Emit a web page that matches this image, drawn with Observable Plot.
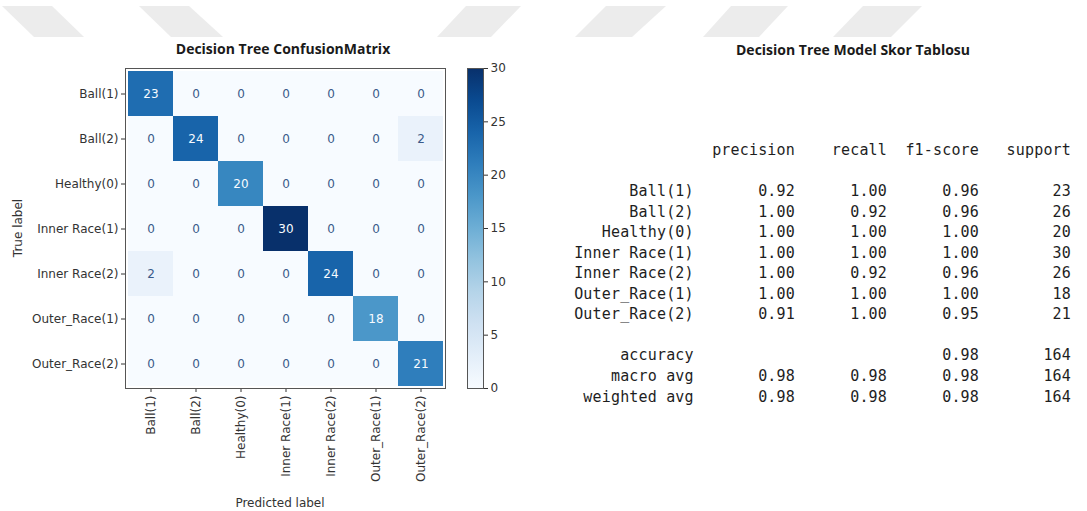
<!DOCTYPE html>
<html>
<head>
<meta charset="utf-8">
<script src="https://cdn.jsdelivr.net/npm/d3@7"></script>
<script src="https://cdn.jsdelivr.net/npm/@observablehq/plot@0.6"></script>
<style>
  html, body { margin: 0; padding: 0; background: #fff; }
  #root { position: relative; width: 1087px; height: 511px; overflow: hidden; background: #fff; }
  .abs { position: absolute; }
  .title { font-family: "Open Sans", sans-serif; font-weight: 700; font-size: 14px; color: #1a1a1a; white-space: nowrap; transform: translate(-50%, -50%); }
  .axlab { font-family: "DejaVu Sans", sans-serif; font-size: 12px; color: #333; white-space: nowrap; }
  pre#report { margin: 0; font-family: "DejaVu Sans Mono", monospace; font-size: 15px; letter-spacing: 0.17px; line-height: 20.55px; color: #1e1e1e; }
</style>
</head>
<body>
<div id="root">
  <svg class="abs" style="left:0;top:0" width="1087" height="45">
    <g fill="#ececec">
      <polygon points="2,6 52,6 84,37 34,37"/>
      <polygon points="139,6 189,6 223,37 171,37"/>
      <polygon points="466,6 521,6 491,37 437,37"/>
      <polygon points="606,6 666,6 632,37 575,37"/>
      <polygon points="731,6 788,6 759,37 703,37"/>
      <polygon points="863,6 922,6 891,37 833,37"/>
    </g>
  </svg>
  <div class="abs title" style="left:283px;top:48px">Decision Tree ConfusionMatrix</div>
  <div class="abs title" style="left:853px;top:49px">Decision Tree Model Skor Tablosu</div>
  <div id="cm" class="abs" style="left:0;top:0"></div>
  <div id="cb" class="abs" style="left:460px;top:0"></div>
  <div class="abs axlab" style="left:280px;top:503px;transform:translate(-50%,-50%)">Predicted label</div>
  <div class="abs axlab" style="left:18px;top:228px;transform:translate(-50%,-50%) rotate(-90deg)">True label</div>
  <pre id="report" class="abs" style="right:16px;top:140px"></pre>
</div>
<script>
// ---- Confusion matrix data ----
const labels = ["Ball(1)", "Ball(2)", "Healthy(0)", "Inner Race(1)", "Inner Race(2)", "Outer_Race(1)", "Outer_Race(2)"];
const row_ball1  = [23, 0, 0, 0, 0, 0, 0];
const row_ball2  = [0, 24, 0, 0, 0, 0, 2];
const row_health = [0, 0, 20, 0, 0, 0, 0];
const row_inner1 = [0, 0, 0, 30, 0, 0, 0];
const row_inner2 = [2, 0, 0, 0, 24, 0, 0];
const row_outer1 = [0, 0, 0, 0, 0, 18, 0];
const row_outer2 = [0, 0, 0, 0, 0, 0, 21];
const colorbarTicks = [0, 5, 10, 15, 20, 25, 30];

// ---- Classification report data ----
const reportLabels = ["Ball(1)", "Ball(2)", "Healthy(0)", "Inner Race(1)", "Inner Race(2)", "Outer_Race(1)", "Outer_Race(2)"];
const precision = [0.92, 1.00, 1.00, 1.00, 1.00, 1.00, 0.91];
const recall    = [1.00, 0.92, 1.00, 1.00, 0.92, 1.00, 1.00];
const f1score   = [0.96, 0.96, 1.00, 1.00, 0.96, 1.00, 0.95];
const support   = [23, 26, 20, 30, 26, 18, 21];
const accuracy  = {f1: 0.98, support: 164};
const macroAvg  = {precision: 0.98, recall: 0.98, f1: 0.98, support: 164};
const weightedAvg = {precision: 0.98, recall: 0.98, f1: 0.98, support: 164};

const rows = [row_ball1, row_ball2, row_health, row_inner1, row_inner2, row_outer1, row_outer2];
const cells = [];
rows.forEach((r, i) => r.forEach((v, j) => cells.push({truth: labels[i], pred: labels[j], value: v})));
const vmax = 30, thresh = vmax / 2;

const axisStyle = {fontFamily: "'DejaVu Sans', sans-serif", fontSize: "12px", color: "#333", background: "transparent"};

const cm = Plot.plot({
  width: 460, height: 511,
  marginLeft: 125, marginRight: 15, marginTop: 68, marginBottom: 123,
  style: axisStyle,
  x: {type: "band", domain: labels, padding: 0, tickRotate: -90, tickSize: 4, tickPadding: 3, label: null},
  y: {type: "band", domain: labels, padding: 0, tickSize: 4, tickPadding: 3, label: null},
  color: {type: "linear", scheme: "blues", domain: [0, vmax]},
  marks: [
    Plot.cell(cells, {x: "pred", y: "truth", fill: "value", inset: 0}),
    Plot.text(cells, {x: "pred", y: "truth", text: d => String(d.value),
      fill: d => d.value < thresh ? "#3a5a8a" : "#f7fbff", fontSize: 12}),
    Plot.frame({stroke: "#555"})
  ]
});
document.getElementById("cm").appendChild(cm);

const cb = Plot.plot({
  width: 60, height: 511,
  marginLeft: 7, marginRight: 37, marginTop: 68, marginBottom: 123,
  style: axisStyle,
  x: {domain: [0, 1], axis: null},
  y: {domain: [0, vmax], axis: "right", ticks: colorbarTicks, tickSize: 4, tickPadding: 3, label: null},
  marks: [
    Plot.rect([0], {x1: 0, x2: 1, y1: 0, y2: vmax, fill: "url(#cbgrad)"}),
    Plot.frame({stroke: "#555"})
  ]
});
const defs = d3.select(cb).insert("defs", ":first-child");
const grad = defs.append("linearGradient").attr("id", "cbgrad")
  .attr("x1", 0).attr("y1", 1).attr("x2", 0).attr("y2", 0);
d3.range(0, 11).forEach(k => {
  const t = k / 10;
  grad.append("stop").attr("offset", t).attr("stop-color", d3.interpolateBlues(t));
});
document.getElementById("cb").appendChild(cb);

// ---- report text ----
const f2 = v => v.toFixed(2);
const lines = [];
lines.push("".padStart(13) + "precision".padStart(11) + "recall".padStart(10) + "f1-score".padStart(10) + "support".padStart(10));
lines.push("");
reportLabels.forEach((l, i) => {
  lines.push(l.padStart(13) + f2(precision[i]).padStart(11) + f2(recall[i]).padStart(10) + f2(f1score[i]).padStart(10) + String(support[i]).padStart(10));
});
lines.push("");
lines.push("accuracy".padStart(13) + "".padStart(21) + f2(accuracy.f1).padStart(10) + String(accuracy.support).padStart(10));
lines.push("macro avg".padStart(13) + f2(macroAvg.precision).padStart(11) + f2(macroAvg.recall).padStart(10) + f2(macroAvg.f1).padStart(10) + String(macroAvg.support).padStart(10));
lines.push("weighted avg".padStart(13) + f2(weightedAvg.precision).padStart(11) + f2(weightedAvg.recall).padStart(10) + f2(weightedAvg.f1).padStart(10) + String(weightedAvg.support).padStart(10));
document.getElementById("report").textContent = lines.join("\n");
</script>
</body>
</html>
